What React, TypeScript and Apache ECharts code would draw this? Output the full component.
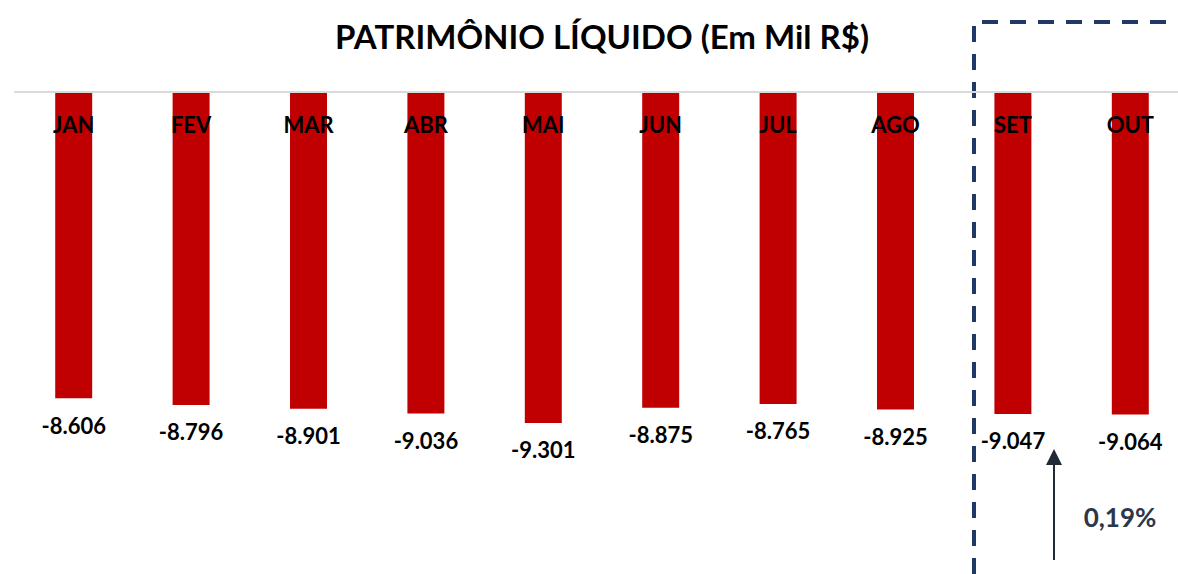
import React, { useEffect, useRef } from "react";
import * as echarts from "echarts";

const categories = ["JAN", "FEV", "MAR", "ABR", "MAI", "JUN", "JUL", "AGO", "SET", "OUT"];
const values = [-8606, -8796, -8901, -9036, -9301, -8875, -8765, -8925, -9047, -9064];
const titleText = "PATRIMÔNIO LÍQUIDO (Em Mil R$)";
const changeText = "0,19%";

const FONT = "Lato, 'Open Sans', sans-serif";

function fmt(v: number): string {
  const s = Math.abs(v).toString();
  const parts: string[] = [];
  for (let i = s.length; i > 0; i -= 3) parts.unshift(s.substring(Math.max(0, i - 3), i));
  return (v < 0 ? "-" : "") + parts.join(".");
}

export default function App() {
  const ref = useRef<HTMLDivElement>(null);
  useEffect(() => {
    if (!ref.current) return;
    const chart = echarts.init(ref.current, null, { renderer: "svg" });
    chart.setOption({
      animation: false,
      backgroundColor: "#ffffff",
      title: {
        text: titleText,
        left: 597,
        textAlign: "center",
        top: 14,
        textStyle: { fontFamily: FONT, fontWeight: "bold", fontSize: 33, color: "#000000" },
      },
      grid: { left: 15, top: 92, width: 1174, height: 427, outerBoundsMode: "none", containLabel: false },
      xAxis: {
        type: "category",
        data: categories,
        position: "top",
        axisLine: { show: true, lineStyle: { color: "#d9d9d9", width: 2 } },
        axisTick: { show: false },
        axisLabel: {
          inside: true,
          margin: 21,
          color: "#000000",
          fontFamily: FONT,
          fontWeight: "bold",
          fontSize: 22,
        },
        z: 10,
      },
      yAxis: {
        type: "value",
        min: -12000,
        max: 0,
        show: false,
        splitLine: { show: false },
      },
      series: [
        {
          type: "bar",
          data: values,
          barWidth: "31.5%",
          itemStyle: { color: "#c00000" },
          label: {
            show: true,
            position: "bottom",
            distance: 16,
            formatter: (p: any) => fmt(p.value),
            color: "#000000",
            fontFamily: FONT,
            fontWeight: "bold",
            fontSize: 22,
          },
        },
      ],
      graphic: [
        {
          type: "polyline",
          shape: { points: [[974, 574], [974, 22], [1180, 22]] },
          style: { stroke: "#1f3864", lineWidth: 4, lineDash: [16, 12], fill: null },
        },
        {
          type: "line",
          shape: { x1: 1054, y1: 560, x2: 1054, y2: 464 },
          style: { stroke: "#222a35", lineWidth: 2 },
        },
        {
          type: "polygon",
          shape: { points: [[1046, 465], [1062, 465], [1054, 449]] },
          style: { fill: "#222a35" },
        },
        {
          type: "text",
          x: 1120,
          y: 517,
          style: {
            text: changeText,
            fill: "#2d3747",
            font: `bold 26px ${FONT}`,
            align: "center",
            verticalAlign: "middle",
          },
        },
      ],
    });
    return () => chart.dispose();
  }, []);
  return (
    <div
      ref={ref}
      style={{ position: "fixed", left: 0, top: 0, width: 1178, height: 574 }}
    />
  );
}
